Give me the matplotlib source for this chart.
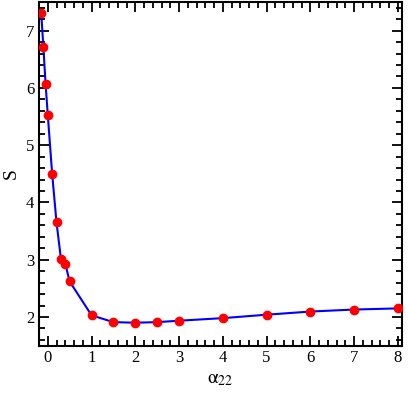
import matplotlib
matplotlib.use("Agg")
import matplotlib.pyplot as plt
from matplotlib.ticker import MultipleLocator

alpha22 = [-0.15, -0.1, -0.05, 0.0, 0.1, 0.2, 0.3, 0.4, 0.5, 1.0, 1.5, 2.0, 2.5, 3.0, 4.0, 5.0, 6.0, 7.0, 8.0]
S = [7.31, 6.71, 6.07, 5.53, 4.50, 3.65, 3.02, 2.93, 2.62, 2.03, 1.91, 1.90, 1.91, 1.935, 1.98, 2.04, 2.095, 2.13, 2.15]

plt.rcParams['font.family'] = ['Liberation Serif', 'DejaVu Serif']
plt.rcParams['mathtext.fontset'] = 'stix'

fig = plt.figure(figsize=(4.09, 3.95), dpi=100)
ax = fig.add_axes([0.0954, 0.125, 0.888, 0.870])
ax.plot(alpha22, S, color='#0000ff', lw=1.5, zorder=2)
ax.plot(alpha22, S, 'o', color='#ff0000', ms=6, mec='#ff0000', zorder=3)

ax.set_xlim(-0.2, 8.1)
ax.set_ylim(1.5, 7.5)
ax.xaxis.set_major_locator(MultipleLocator(1))
ax.xaxis.set_minor_locator(MultipleLocator(0.2))
ax.yaxis.set_major_locator(MultipleLocator(1))
ax.yaxis.set_minor_locator(MultipleLocator(0.2))
ax.tick_params(which='both', direction='in', top=True, right=True, width=1.3, labelsize=12)
ax.tick_params(which='major', length=7)
ax.tick_params(which='minor', length=4)
for sp in ax.spines.values():
    sp.set_linewidth(1.5)
ax.set_xlabel(r'$\mathrm{\alpha}_{\mathrm{22}}$', fontsize=14, labelpad=3)
ax.set_ylabel('S', fontsize=14, labelpad=4)

fig.savefig('out.png', dpi=100)
